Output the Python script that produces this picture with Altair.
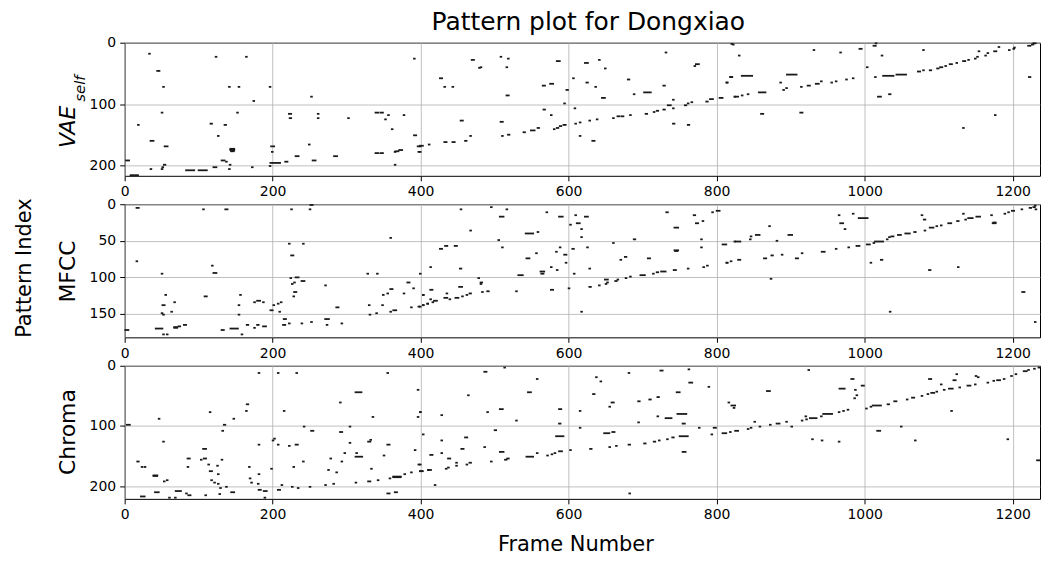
import altair as alt
import pandas as pd

# ---------------- data (frame start, run length in frames, pattern index) ----------------
TITLE = "Pattern plot for Dongxiao"
X_LABEL = "Frame Number"
Y_LABEL = "Pattern Index"
N_FRAMES = 1237
X_TICKS = [0, 200, 400, 600, 800, 1000, 1200]

VAE_ROWS = 217
VAE_TICKS = [0, 100, 200]
VAE_SEGMENTS = [
    (33, 1, 18), (44, 3, 46), (52, 1, 72), (123, 1, 23), (164, 1, 23), (141, 1, 72), (154, 1, 72),
    (196, 1, 72), (174, 1, 95), (252, 1, 88), (391, 1, 26), (50, 1, 114), (18, 1, 134), (116, 2, 132),
    (135, 2, 134), (152, 1, 114), (126, 1, 152), (35, 4, 160), (54, 4, 169), (2, 4, 192), (35, 1, 206),
    (50, 1, 206), (53, 2, 199), (51, 1, 203), (143, 5, 173), (143, 5, 174), (143, 5, 175), (144, 4, 176),
    (144, 3, 177), (131, 4, 192), (137, 1, 194), (142, 1, 199), (141, 1, 206), (120, 4, 203), (83, 11, 208),
    (100, 11, 208), (172, 1, 203), (196, 1, 201), (197, 13, 196), (199, 1, 178), (198, 4, 169), (217, 3, 194),
    (222, 3, 116), (223, 2, 123), (231, 4, 185), (249, 1, 166), (254, 4, 192), (261, 1, 116), (261, 1, 123),
    (283, 4, 185), (302, 1, 123), (339, 4, 114), (346, 3, 114), (356, 1, 118), (352, 1, 125), (361, 1, 141),
    (377, 1, 118), (339, 4, 180), (346, 3, 180), (365, 1, 178), (366, 4, 177), (371, 4, 175), (365, 1, 199),
    (391, 3, 151), (396, 4, 169), (397, 1, 178), (8, 4, 216), (14, 4, 216),
    (469, 3, 28), (479, 1, 41), (481, 1, 40), (508, 1, 23), (518, 1, 26), (516, 1, 40), (584, 4, 30),
    (426, 3, 58), (432, 1, 72), (443, 1, 72), (516, 3, 86), (565, 3, 70), (575, 4, 67), (597, 2, 77),
    (594, 1, 99), (566, 2, 109), (576, 1, 118), (454, 3, 127), (508, 3, 129), (510, 1, 152), (518, 2, 150),
    (467, 1, 152), (460, 2, 160), (432, 3, 162), (443, 3, 162), (411, 1, 166), (399, 4, 168), (399, 1, 178),
    (539, 2, 146), (549, 5, 143), (558, 2, 139), (580, 1, 141), (584, 2, 139), (588, 2, 136), (593, 3, 134),
    (608, 1, 107), (609, 1, 132), (615, 1, 130), (615, 1, 152), (628, 1, 127), (638, 1, 125), (632, 3, 160),
    (660, 1, 123), (666, 3, 120), (672, 2, 120), (683, 1, 118), (704, 2, 116), (715, 1, 113), (719, 2, 111),
    (728, 2, 109), (734, 4, 102), (741, 1, 107), (757, 2, 102), (761, 1, 99), (766, 1, 97), (786, 2, 96),
    (791, 4, 92), (741, 2, 132), (761, 2, 134), (741, 1, 93), (728, 2, 70), (702, 9, 81), (688, 1, 84),
    (680, 2, 60), (645, 4, 90), (636, 1, 72), (624, 2, 65), (606, 1, 58), (622, 4, 33), (641, 1, 28),
    (649, 1, 42), (731, 1, 16), (772, 4, 35), (770, 1, 38), (804, 4, 90), (813, 1, 65), (819, 2, 56),
    (824, 1, 88), (822, 1, 3),
    (820, 1, 2), (830, 1, 21), (818, 3, 56), (814, 1, 65), (834, 14, 54), (825, 4, 88), (834, 1, 86),
    (842, 1, 84), (857, 9, 81), (860, 3, 116), (895, 13, 52), (886, 1, 65), (890, 1, 77), (894, 1, 74),
    (914, 1, 72), (923, 3, 70), (934, 4, 67), (941, 1, 63), (955, 1, 65), (961, 1, 63), (975, 1, 60),
    (984, 1, 58), (931, 1, 12), (967, 1, 16), (993, 3, 10), (913, 3, 114), (1003, 1, 40), (1012, 3, 5),
    (1015, 1, 1), (1023, 1, 21), (1014, 1, 56), (1025, 14, 54), (1043, 13, 52), (1018, 4, 88), (1033, 2, 84),
    (1079, 1, 12), (1072, 3, 47), (1079, 1, 45), (1088, 2, 45), (1098, 2, 42), (1102, 3, 40), (1109, 1, 38),
    (1115, 3, 35), (1124, 1, 33), (1133, 3, 30), (1140, 1, 28), (1149, 1, 26), (1152, 1, 23), (1154, 1, 14),
    (1163, 1, 21), (1166, 1, 17), (1175, 3, 14), (1181, 1, 7), (1195, 1, 12), (1201, 1, 10), (1202, 1, 8),
    (1133, 1, 139), (1176, 1, 118), (1221, 3, 5), (1226, 2, 3), (1228, 3, 1), (1222, 2, 56),
]

MFCC_ROWS = 182
MFCC_TICKS = [0, 50, 100, 150]
MFCC_SEGMENTS = [
    (16, 3, 5), (106, 1, 7), (136, 3, 7), (16, 1, 78), (50, 1, 95), (118, 1, 84), (120, 4, 94), (108, 3, 126),
    (55, 1, 124), (51, 3, 138), (67, 1, 134), (50, 1, 149), (52, 1, 151), (63, 1, 147), (1, 4, 172),
    (42, 9, 170), (52, 1, 178), (57, 1, 178), (67, 4, 168), (67, 4, 169), (73, 2, 167), (80, 3, 165),
    (131, 3, 172), (143, 10, 170), (158, 1, 178), (165, 2, 165), (175, 1, 169), (179, 2, 165), (187, 4, 167),
    (156, 1, 124), (154, 1, 138), (154, 1, 151), (175, 1, 134), (179, 4, 132), (187, 1, 134), (197, 3, 145),
    (201, 1, 138), (207, 1, 136), (211, 1, 134), (209, 1, 147), (215, 3, 157), (214, 3, 165), (222, 1, 163),
    (222, 1, 54), (225, 3, 70), (225, 1, 7), (250, 1, 7), (251, 3, 1), (241, 1, 54), (224, 1, 101),
    (226, 1, 109), (229, 1, 107), (231, 4, 100), (239, 4, 105), (229, 3, 120), (228, 1, 126), (239, 1, 163),
    (252, 1, 161), (271, 1, 111), (271, 5, 157), (273, 1, 165), (286, 3, 141), (293, 1, 163), (328, 1, 95),
    (341, 1, 95), (330, 1, 138), (331, 1, 151), (340, 1, 149), (348, 1, 138), (349, 1, 124), (355, 1, 122),
    (359, 3, 116), (359, 1, 147), (363, 4, 145), (359, 1, 46), (377, 1, 122), (382, 3, 107), (390, 1, 115),
    (387, 1, 141), (397, 1, 140), (399, 1, 95), (403, 1, 124), (403, 1, 138), (409, 1, 136),
    (454, 1, 7), (495, 1, 4), (516, 1, 7), (507, 5, 17), (467, 1, 36), (570, 1, 11), (587, 5, 17),
    (609, 1, 15), (622, 4, 17), (611, 4, 26), (617, 1, 34), (602, 1, 28), (617, 1, 45), (542, 10, 40),
    (558, 1, 38), (505, 1, 49), (426, 3, 61), (433, 3, 57), (446, 3, 57), (510, 1, 59), (543, 4, 74),
    (556, 1, 67), (583, 1, 65), (588, 1, 59), (594, 3, 69), (596, 1, 80), (605, 2, 61), (625, 1, 59),
    (628, 1, 88), (607, 1, 95), (453, 2, 88), (413, 1, 86), (576, 1, 86), (584, 1, 90), (562, 5, 92),
    (563, 3, 95), (532, 6, 97), (478, 1, 101), (481, 2, 107), (481, 1, 109), (452, 4, 113), (413, 3, 117),
    (403, 1, 124), (413, 1, 130), (418, 4, 132), (416, 1, 134), (409, 1, 136), (403, 1, 138), (399, 1, 140),
    (435, 1, 122), (432, 4, 128), (439, 1, 130), (447, 4, 128), (456, 1, 126), (462, 1, 124), (466, 2, 122),
    (483, 1, 120), (490, 2, 119), (529, 1, 119), (576, 3, 117), (600, 1, 115), (628, 2, 113), (641, 1, 111),
    (650, 1, 109), (652, 1, 107), (649, 4, 103), (663, 2, 105), (666, 1, 103), (677, 1, 101), (683, 1, 99),
    (697, 6, 97), (714, 1, 95), (719, 2, 93), (725, 6, 92), (742, 3, 90), (761, 1, 88), (782, 1, 86),
    (787, 1, 84), (617, 1, 147), (660, 1, 53), (670, 1, 76), (676, 2, 72), (688, 2, 48), (707, 3, 74),
    (732, 2, 11), (743, 5, 32), (743, 5, 63), (744, 3, 64), (769, 2, 15), (772, 3, 26), (781, 1, 23),
    (779, 1, 48), (779, 1, 59), (794, 1, 11), (800, 4, 9), (808, 5, 55), (813, 1, 80), (819, 1, 78),
    (824, 1, 51),
    (826, 6, 51), (846, 1, 44), (845, 1, 48), (853, 5, 42), (871, 1, 30), (881, 1, 50), (897, 5, 42),
    (814, 1, 80), (829, 3, 76), (864, 3, 74), (874, 2, 70), (888, 1, 69), (907, 3, 74), (915, 1, 67),
    (942, 4, 65), (961, 1, 61), (978, 1, 59), (989, 4, 57), (873, 1, 102), (965, 1, 15), (967, 4, 26),
    (973, 1, 34), (984, 1, 13), (992, 12, 19), (1003, 4, 55), (1012, 1, 53), (1014, 11, 51), (1030, 1, 48),
    (1033, 1, 45), (1036, 3, 44), (1045, 4, 42), (1055, 6, 40), (1067, 2, 38), (1077, 1, 15), (1080, 2, 21),
    (1081, 1, 36), (1088, 5, 32), (1097, 1, 30), (1103, 1, 29), (1113, 4, 26), (1125, 2, 23), (1133, 1, 13),
    (1136, 1, 21), (1140, 6, 19), (1151, 5, 17), (1171, 1, 15), (1173, 4, 26), (1174, 3, 25), (1189, 1, 13),
    (1194, 1, 11), (1199, 3, 9), (1212, 1, 7), (1223, 2, 5), (1228, 2, 4), (1231, 1, 7), (1230, 1, 2),
    (1008, 1, 80), (1022, 2, 76), (1087, 2, 90), (1126, 1, 86), (1034, 1, 147), (1213, 3, 120), (1230, 1, 161),
]

CHROMA_ROWS = 221
CHROMA_TICKS = [0, 100, 200]
CHROMA_SEGMENTS = [
    (3, 4, 98), (46, 1, 88), (52, 1, 126), (17, 2, 159), (23, 1, 168), (27, 1, 168), (39, 5, 182),
    (39, 5, 183), (53, 1, 192), (57, 1, 190), (22, 5, 217), (41, 5, 210), (69, 7, 208), (60, 1, 219),
    (68, 1, 219), (83, 1, 212), (86, 3, 215), (85, 1, 168), (85, 3, 154), (103, 1, 156), (107, 3, 154),
    (106, 4, 138), (115, 1, 77), (113, 1, 164), (115, 3, 175), (117, 1, 190), (121, 1, 194), (125, 1, 166),
    (126, 1, 180), (126, 1, 196), (129, 1, 203), (128, 1, 213), (109, 1, 215), (131, 1, 156), (132, 1, 108),
    (134, 2, 98), (147, 1, 88), (164, 1, 75), (165, 2, 64), (137, 1, 201), (144, 4, 210), (168, 1, 168),
    (169, 1, 187), (171, 1, 194), (181, 1, 131), (181, 1, 12), (181, 1, 180), (180, 1, 196), (181, 3, 206),
    (188, 4, 208), (189, 1, 219), (198, 1, 171), (200, 1, 124), (202, 1, 121), (207, 1, 12), (207, 1, 131),
    (207, 3, 206), (212, 1, 198), (215, 1, 75), (222, 1, 133), (228, 1, 168), (232, 1, 12), (231, 3, 131),
    (226, 1, 201), (234, 1, 203), (242, 1, 101), (241, 1, 159), (250, 1, 201), (252, 3, 108), (271, 1, 198),
    (275, 1, 173), (278, 1, 154), (282, 1, 196), (286, 1, 177), (291, 1, 61), (291, 3, 110), (293, 1, 159),
    (297, 1, 145), (304, 1, 101), (304, 1, 128), (312, 1, 194), (313, 1, 145), (312, 8, 44), (312, 9, 151),
    (329, 3, 126), (332, 1, 123), (333, 1, 171), (329, 3, 192), (335, 1, 85), (342, 1, 190), (350, 1, 149),
    (355, 1, 12), (355, 3, 131), (355, 3, 212), (358, 1, 187), (365, 3, 210), (363, 10, 184), (363, 10, 185),
    (378, 1, 180), (387, 1, 177), (392, 1, 140), (396, 1, 40), (396, 1, 85), (399, 1, 77), (397, 1, 164),
    (399, 3, 175), (403, 1, 114), (410, 1, 173),
    (486, 3, 10), (513, 1, 3), (557, 1, 22), (464, 1, 49), (545, 4, 44), (428, 1, 82), (490, 1, 77),
    (507, 4, 72), (529, 1, 91), (587, 3, 72), (587, 2, 96), (399, 1, 77), (500, 2, 107), (460, 3, 119),
    (583, 10, 117), (428, 1, 124), (413, 3, 148), (428, 1, 145), (455, 3, 138), (437, 3, 154), (434, 1, 171),
    (437, 1, 169), (448, 1, 161), (448, 1, 166), (462, 1, 164), (466, 2, 161), (486, 1, 135), (495, 1, 159),
    (507, 5, 143), (514, 2, 156), (517, 2, 154), (543, 9, 151), (557, 1, 145), (571, 1, 149), (577, 1, 147),
    (581, 1, 145), (587, 4, 142), (410, 4, 173), (399, 4, 175), (399, 1, 164), (419, 1, 198), (602, 1, 140),
    (615, 1, 75), (615, 1, 103), (629, 2, 138), (633, 2, 47), (637, 1, 19), (643, 1, 26), (655, 1, 68),
    (658, 3, 61), (648, 7, 112), (659, 3, 110), (655, 1, 135), (664, 1, 133), (681, 2, 131), (702, 2, 129),
    (715, 2, 126), (722, 1, 124), (733, 1, 122), (740, 2, 119), (750, 11, 117), (754, 4, 143), (681, 1, 12),
    (694, 2, 59), (694, 1, 94), (709, 2, 56), (720, 2, 52), (720, 1, 84), (731, 8, 87), (746, 4, 44),
    (747, 12, 80), (754, 3, 96), (724, 3, 8), (762, 1, 6), (763, 4, 28), (789, 1, 35), (776, 1, 103),
    (796, 3, 103), (793, 1, 114), (682, 1, 212),
    (816, 1, 61), (820, 5, 66), (823, 1, 70), (808, 5, 112), (818, 1, 110), (825, 4, 108), (842, 1, 105),
    (846, 1, 103), (851, 1, 93), (858, 1, 101), (872, 1, 98), (881, 4, 96), (894, 1, 93), (901, 1, 101),
    (868, 4, 42), (915, 1, 91), (920, 1, 84), (921, 1, 89), (926, 9, 87), (941, 1, 84), (944, 12, 80),
    (965, 1, 77), (971, 1, 75), (977, 1, 73), (924, 1, 7), (929, 1, 122), (942, 1, 124), (965, 1, 126),
    (982, 3, 22), (966, 7, 38), (987, 1, 40), (989, 1, 49), (986, 1, 54), (996, 3, 33), (1002, 1, 71),
    (1008, 1, 68), (1011, 11, 66), (1031, 2, 64), (1040, 3, 59), (1057, 1, 56), (1064, 3, 53), (1077, 1, 50),
    (1085, 1, 47), (1090, 4, 45), (1097, 1, 43), (1107, 1, 40), (1114, 5, 38), (1128, 1, 36), (1139, 4, 33),
    (1149, 1, 31), (1166, 1, 28), (1174, 1, 25), (1179, 4, 24), (1188, 1, 22), (1198, 1, 17), (1204, 1, 14),
    (1215, 4, 9), (1221, 1, 7), (1229, 1, 5), (1235, 2, 3), (1087, 3, 22), (1103, 1, 31), (1120, 3, 24),
    (1124, 1, 14), (1150, 1, 17), (1153, 1, 19), (1117, 1, 75), (1017, 4, 108), (1049, 1, 101),
    (1068, 1, 124), (1193, 1, 122), (1233, 3, 157),
]

# ---------------- layout / style ----------------
W, H = 918, 133.5
FONT = "DejaVu Sans"
GRID = "#b0b0b0"


def make_panel(segments, rows, yticks, ytitle, title_y, first=False, middle=False, last=False):
    df = pd.DataFrame(segments, columns=["frame", "length", "idx"])
    df["end"] = df["frame"] + df["length"]

    x_axis_kwargs = dict(
        values=X_TICKS, format="d", grid=True, gridColor=GRID, gridWidth=0.8, domain=False,
        ticks=True, tickSize=5, tickColor="black", labelFlush=False, labelPadding=4,
        labelFont=FONT, labelFontSize=14, labelColor="black",
    )
    if last:
        x_axis_kwargs.update(
            title=X_LABEL, titleFont=FONT, titleFontSize=21, titleFontWeight="normal",
            titleColor="black", titleX=452, titleY=46, titleAlign="center", titleBaseline="middle",
        )
    else:
        x_axis_kwargs.update(title=None)

    y_axis = alt.Axis(
        values=yticks, format="d", grid=True, gridColor=GRID, gridWidth=0.8, domain=False,
        ticks=True, tickSize=5, tickColor="black", labelFlush=False, labelPadding=4,
        labelFont=FONT, labelFontSize=14, labelColor="black",
        title=ytitle, titleFont=FONT, titleFontSize=22, titleFontWeight="normal",
        titleFontStyle="italic" if first else "normal",
        titleColor="black", titleX=-57, titleY=title_y, titleAngle=270,
        titleAlign="center", titleBaseline="middle",
    )

    rules = alt.Chart(df).mark_rule(
        strokeWidth=1.8, strokeCap="square", color="#1a1a1a"
    ).encode(
        x=alt.X("frame:Q", scale=alt.Scale(domain=[0, N_FRAMES], nice=False, zero=False),
                axis=alt.Axis(**x_axis_kwargs)),
        x2="end:Q",
        y=alt.Y("idx:Q", scale=alt.Scale(domain=[0, rows], reverse=True, nice=False, zero=False),
                axis=y_axis),
    )

    layers = [rules]
    if first:
        sub = alt.Chart(pd.DataFrame({"t": ["self"]})).mark_text(
            font=FONT, fontSize=15, fontStyle="italic", angle=270, align="center",
            baseline="middle", color="black",
        ).encode(text="t:N", x=alt.value(-45), y=alt.value(46))
        layers.append(sub)
    if middle:
        lab = alt.Chart(pd.DataFrame({"t": [Y_LABEL]})).mark_text(
            font=FONT, fontSize=21, angle=270, align="center", baseline="middle", color="black",
        ).encode(text="t:N", x=alt.value(-100), y=alt.value(64))
        layers.append(lab)

    props = dict(width=W, height=H)
    if first:
        props["title"] = alt.TitleParams(
            TITLE, font=FONT, fontSize=25, fontWeight="normal", color="black",
            anchor="middle", frame="group", offset=1, dx=6,
        )
    return alt.layer(*layers).properties(**props)


p1 = make_panel(VAE_SEGMENTS, VAE_ROWS, VAE_TICKS, "VAE", 84, first=True)
p2 = make_panel(MFCC_SEGMENTS, MFCC_ROWS, MFCC_TICKS, "MFCC", 67, middle=True)
p3 = make_panel(CHROMA_SEGMENTS, CHROMA_ROWS, CHROMA_TICKS, "Chroma", 66, last=True)

chart = alt.vconcat(p1, p2, p3, spacing=28, bounds="flush").properties(
    padding={"left": 5, "top": 0, "right": 0, "bottom": 0},
    background="white",
).configure_view(stroke="black", strokeWidth=1)

chart.save("out.html", embed_options={"renderer": "svg", "actions": False})
